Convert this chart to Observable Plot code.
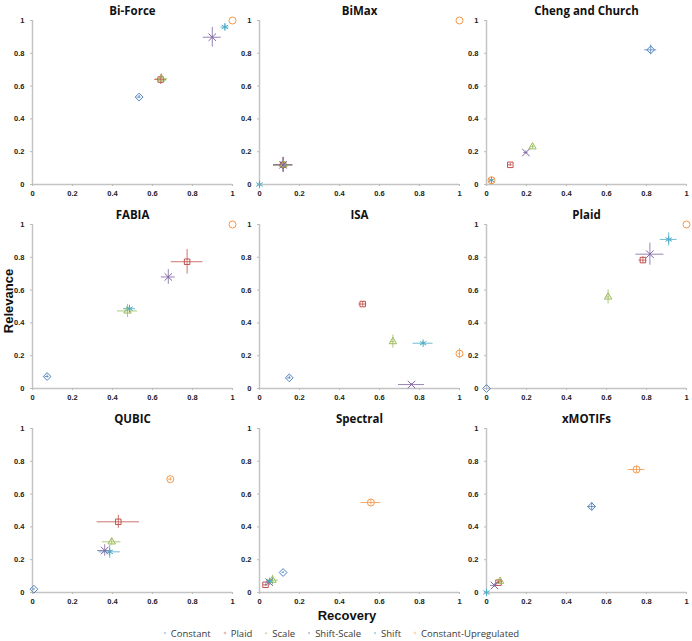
<!DOCTYPE html>
<html>
<head>
<meta charset="utf-8">
<script src="https://cdn.jsdelivr.net/npm/d3@7"></script>
<script src="https://cdn.jsdelivr.net/npm/@observablehq/plot@0.6"></script>
<style>
  html, body { margin: 0; padding: 0; background: #fff; }
  #wrap { position: relative; width: 692px; height: 641px; overflow: hidden; }
  #ylab { position: absolute; left: 8px; top: 301px; transform: translate(-50%, -50%) rotate(-90deg);
          font: bold 13px "Liberation Sans", Arial, sans-serif; color: #111; white-space: nowrap; }
  #xlab { position: absolute; left: 347px; top: 615px; transform: translate(-50%, -50%);
          font: bold 13px "Liberation Sans", Arial, sans-serif; color: #111; white-space: nowrap; }
  #legend { position: absolute; left: 0; top: 625px; width: 692px; height: 16px; display: flex; justify-content: center; align-items: center; }
  #legend div { min-height: 0 !important; margin: 0 !important; font-family: "Open Sans", sans-serif !important; font-size: 9.5px !important; color: #3a3a3a; }
  #legend span { margin-right: 11px !important; }
  #legend svg { margin-right: 3px !important; }
</style>
</head>
<body>
<div id="wrap">
  <div id="chart"></div>
  <div id="ylab">Relevance</div>
  <div id="xlab">Recovery</div>
  <div id="legend"></div>
</div>
<script>
const methods = ["Bi-Force", "BiMax", "Cheng and Church", "FABIA", "ISA", "Plaid", "QUBIC", "Spectral", "xMOTIFs"];
const types = ["Constant", "Plaid", "Scale", "Shift-Scale", "Shift", "Constant-Upregulated"];
const typeColors = ["#4f81bd", "#c0504d", "#9bbb59", "#8064a2", "#4bacc6", "#f79646"];
const typeSymbols = ["diamond2", "square2", "triangle2", "times", "asterisk", "circle"];
const axisTicks = [0, 0.2, 0.4, 0.6, 0.8, 1];

// recovery (x) per method, in order of types
const recovery = [
  [0.533, 0.641, 0.645, 0.899, 0.962, 1.0],
  [0.118, 0.118, 0.12, 0.118, 0, 1.0],
  [0.821, 0.119, 0.23, 0.197, 0.025, 0.025],
  [0.073, 0.773, 0.475, 0.679, 0.485, 1.0],
  [0.149, 0.516, 0.667, 0.76, 0.818, 1.0],
  [0, 0.782, 0.608, 0.817, 0.911, 1.0],
  [0.007, 0.429, 0.396, 0.361, 0.386, 0.689],
  [0.118, 0.03, 0.065, 0.048, 0.051, 0.557],
  [0.526, 0.06, 0.068, 0.04, 0, 0.75]
];
// relevance (y)
const relevance = [
  [0.533, 0.640, 0.645, 0.898, 0.960, 1.0],
  [0.12, 0.12, 0.12, 0.12, 0, 1.0],
  [0.821, 0.12, 0.23, 0.195, 0.026, 0.026],
  [0.073, 0.773, 0.473, 0.68, 0.487, 1.0],
  [0.065, 0.515, 0.286, 0.024, 0.276, 0.213],
  [0, 0.783, 0.558, 0.819, 0.909, 1.0],
  [0.02, 0.431, 0.309, 0.256, 0.248, 0.691],
  [0.122, 0.047, 0.075, 0.063, 0.069, 0.549],
  [0.524, 0.06, 0.069, 0.043, 0, 0.75]
];
// error (half-width) of recovery
const recoveryErr = [
  [0.01, 0.03, 0.03, 0.045, 0.02, 0],
  [0.048, 0.048, 0.048, 0.048, 0, 0],
  [0.03, 0.01, 0.01, 0.01, 0.01, 0.01],
  [0.01, 0.079, 0.05, 0.035, 0.03, 0],
  [0.01, 0.02, 0.01, 0.065, 0.05, 0.005],
  [0, 0.02, 0.01, 0.07, 0.042, 0],
  [0.005, 0.106, 0.046, 0.035, 0.053, 0.01],
  [0.005, 0.01, 0.03, 0.015, 0.015, 0.05],
  [0.02, 0.01, 0.01, 0.02, 0, 0.042]
];
// error (half-height) of relevance
const relevanceErr = [
  [0.01, 0.03, 0.03, 0.06, 0.02, 0],
  [0.045, 0.045, 0.045, 0.045, 0, 0],
  [0.03, 0.01, 0.01, 0.01, 0.01, 0.01],
  [0.01, 0.075, 0.04, 0.045, 0.02, 0],
  [0.01, 0.015, 0.04, 0.005, 0.01, 0.03],
  [0, 0.02, 0.043, 0.067, 0.04, 0],
  [0.005, 0.04, 0.02, 0.035, 0.04, 0.01],
  [0.005, 0.005, 0.03, 0.015, 0.015, 0.015],
  [0.025, 0.01, 0.01, 0.01, 0, 0.02]
];

const rows = [];
methods.forEach((m, i) => {
  types.forEach((t, j) => {
    rows.push({method: m, col: i % 3, row: Math.floor(i / 3), type: t,
      rec: recovery[i][j], rel: relevance[i][j], ex: recoveryErr[i][j], ey: relevanceErr[i][j]});
  });
});
const titles = methods.map((m, i) => ({method: m, col: i % 3, row: Math.floor(i / 3)}));

const fmt = d3.format("~g");
const plot = Plot.plot({
  width: 692,
  height: 622,
  marginLeft: 31,
  marginRight: 4,
  marginTop: 20,
  marginBottom: 29,
  style: {fontFamily: "'Liberation Sans', Arial, sans-serif", background: "#fff", overflow: "visible"},
  fx: {axis: null, domain: [0, 1, 2], paddingInner: 27 / 228, paddingOuter: 0},
  fy: {axis: null, domain: [0, 1, 2], paddingInner: 40 / 204.33, paddingOuter: 0},
  x: {domain: [0, 1]},
  y: {domain: [0, 1]},
  color: {domain: types, range: typeColors},
  symbol: {domain: types, range: typeSymbols},
  marks: [
    Plot.ruleX([0], {stroke: "#c4c4c4", strokeWidth: 1.5}),
    Plot.ruleY([0], {stroke: "#c4c4c4", strokeWidth: 1.5}),
    Plot.axisX({ticks: axisTicks, tickFormat: fmt, tickSize: 2, tickPadding: 4, facetAnchor: null, label: null,
      stroke: "#bbb", fill: "#222", fontWeight: "bold", fontSize: 7.5}),
    Plot.axisY({ticks: axisTicks, tickFormat: fmt, tickSize: 2, tickPadding: 6, facetAnchor: null, label: null,
      stroke: "#bbb", fill: "#222", fontWeight: "bold", fontSize: 7.5}),
    Plot.text(titles, {fx: "col", fy: "row", text: "method", frameAnchor: "top", dy: -14,
      fontWeight: "bold", fontSize: 11.5, fontFamily: "'Open Sans', sans-serif", fill: "#111"}),
    Plot.ruleY(rows.filter(d => d.ex > 0), {fx: "col", fy: "row", y: "rel", x1: d => d.rec - d.ex, x2: d => d.rec + d.ex,
      stroke: "type", strokeWidth: 1, strokeOpacity: 0.8}),
    Plot.ruleX(rows.filter(d => d.ey > 0), {fx: "col", fy: "row", x: "rec", y1: d => d.rel - d.ey, y2: d => d.rel + d.ey,
      stroke: "type", strokeWidth: 1, strokeOpacity: 0.8}),
    Plot.dot(rows, {fx: "col", fy: "row", x: "rec", y: "rel", symbol: "type", stroke: "type", r: 3.5, strokeWidth: 1})
  ]
});
document.getElementById("chart").appendChild(plot);
const leg = plot.legend("symbol", {swatchSize: 6, r: 2.6, strokeWidth: 1});
if (leg) document.getElementById("legend").appendChild(leg);
</script>
</body>
</html>
